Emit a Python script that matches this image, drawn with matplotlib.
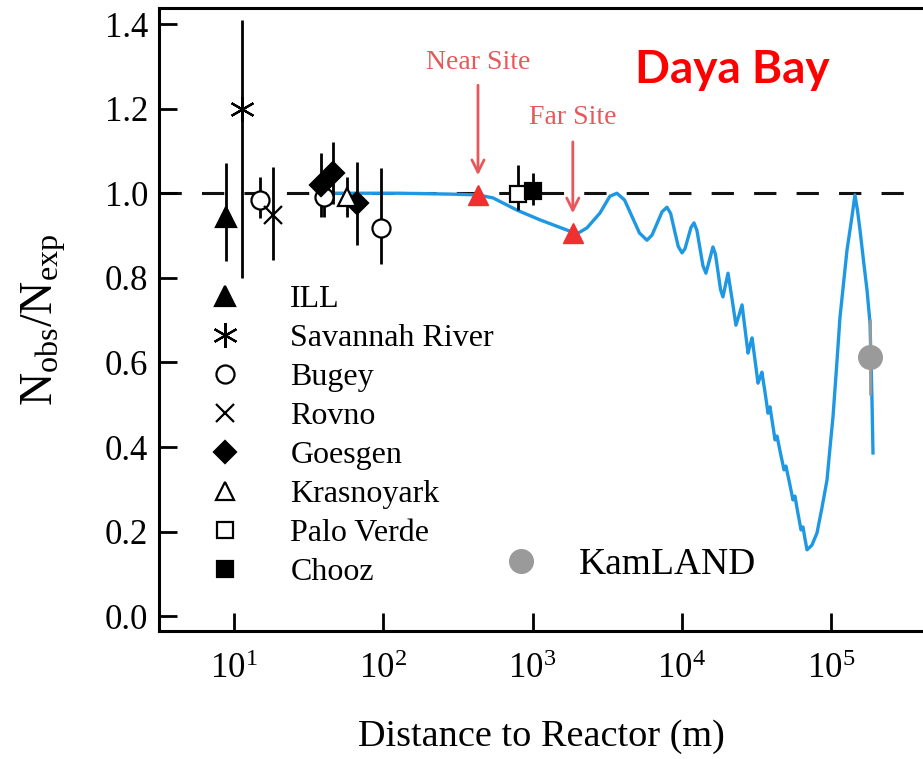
import matplotlib

matplotlib.use("Agg")
import matplotlib.pyplot as plt
import numpy as np
from matplotlib.lines import Line2D

# experiments: distance (m), ratio, lower / upper error
ill_x = [8.8]
ill_y = [0.944]
ill_lo = [0.104]
ill_hi = [0.127]

savannah_x = [11.3]
savannah_y = [1.20]
savannah_lo = [0.40]
savannah_hi = [0.21]

bugey_x = [14.9, 40.0, 96.6]
bugey_y = [0.985, 0.990, 0.918]
bugey_lo = [0.044, 0.046, 0.085]
bugey_hi = [0.053, 0.048, 0.142]

rovno_x = [18.2]
rovno_y = [0.948]
rovno_lo = [0.106]
rovno_hi = [0.114]

goesgen_x = [38.3, 46.0, 66.7]
goesgen_y = [1.019, 1.048, 0.977]
goesgen_lo = [0.075, 0.073, 0.099]
goesgen_hi = [0.076, 0.073, 0.097]

krasno_x = [57.0]
krasno_y = [0.990]
krasno_lo = [0.046]
krasno_hi = [0.048]

palo_x = [800.0]
palo_y = [0.998]
palo_lo = [0.038]
palo_hi = [0.069]

chooz_x = [1000.0]
chooz_y = [1.005]
chooz_lo = [0.033]
chooz_hi = [0.043]

kamland_x = [182000.0]
kamland_y = [0.613]
kamland_err = [0.09]

near_x, near_y = 431.0, 0.995
far_x, far_y = 1860.0, 0.905

# oscillation curve (log10 of distance in m, ratio)
curve_log10_m = [
    1.643, 2.112, 2.447, 2.634, 2.735, 2.896, 3.050, 3.230, 3.297, 3.364, 3.451,
    3.518, 3.565, 3.616, 3.666, 3.716, 3.766, 3.800, 3.833, 3.867, 3.900, 3.925,
    3.950, 3.976, 4.001, 4.021, 4.041, 4.061, 4.081, 4.101, 4.121, 4.141, 4.161,
    4.185, 4.208, 4.225, 4.242, 4.259, 4.275, 4.292, 4.309, 4.336, 4.362, 4.383,
    4.403, 4.423, 4.443, 4.456, 4.470, 4.490, 4.510, 4.523, 4.536, 4.557, 4.577,
    4.584, 4.590, 4.607, 4.624, 4.630, 4.637, 4.660, 4.684, 4.690, 4.697, 4.721,
    4.744, 4.751, 4.757, 4.777, 4.798, 4.804, 4.811, 4.824, 4.838, 4.871, 4.905,
    4.938, 4.972, 4.992, 5.012, 5.036, 5.059, 5.083, 5.106, 5.139, 5.159, 5.176,
    5.193, 5.216, 5.240, 5.260, 5.273, 5.280,
]
curve_ratio = [
    1.000, 1.000, 0.998, 0.996, 0.989, 0.960, 0.937, 0.913, 0.904, 0.918, 0.953,
    0.993, 1.000, 0.984, 0.945, 0.906, 0.889, 0.901, 0.928, 0.956, 0.967, 0.952,
    0.913, 0.874, 0.859, 0.869, 0.894, 0.919, 0.930, 0.912, 0.870, 0.829, 0.811,
    0.842, 0.873, 0.856, 0.814, 0.772, 0.755, 0.783, 0.811, 0.750, 0.688, 0.712,
    0.736, 0.679, 0.622, 0.640, 0.658, 0.605, 0.551, 0.564, 0.577, 0.529, 0.480,
    0.487, 0.495, 0.456, 0.417, 0.421, 0.426, 0.386, 0.346, 0.350, 0.355, 0.315,
    0.275, 0.280, 0.284, 0.244, 0.204, 0.207, 0.211, 0.184, 0.157, 0.168, 0.197,
    0.256, 0.322, 0.398, 0.471, 0.589, 0.707, 0.788, 0.866, 0.944, 0.996, 0.960,
    0.913, 0.842, 0.771, 0.693, 0.516, 0.386,
]

y_ticks = [0.0, 0.2, 0.4, 0.6, 0.8, 1.0, 1.2, 1.4]
x_ticks = [10, 100, 1000, 10000, 100000]

RED_TEXT = "#e8585a"
BLUE = "#1f98e4"


def main() -> None:
    plt.rcParams["font.family"] = "serif"
    plt.rcParams["font.serif"] = ["Liberation Serif", "DejaVu Serif"]
    plt.rcParams["mathtext.fontset"] = "custom"
    plt.rcParams["mathtext.rm"] = "Liberation Serif"
    plt.rcParams["mathtext.it"] = "Liberation Serif:italic"

    fig = plt.figure(figsize=(9.23, 7.59), dpi=100)
    ax = fig.add_axes([0.1723, 0.1686, 0.8277, 0.8209])

    ax.axhline(1.0, color="#111111", lw=2.2, dashes=(7.3, 6.6), zorder=1)
    ax.plot(10 ** np.array(curve_log10_m), curve_ratio, color=BLUE, lw=2.4, zorder=2,
            solid_joinstyle="round")

    ebar = dict(fmt="none", ecolor="black", elinewidth=2.0, capsize=0, zorder=3)
    sets = [
        (ill_x, ill_y, ill_lo, ill_hi, "^", "black", "black", 14, "ILL"),
        (savannah_x, savannah_y, savannah_lo, savannah_hi, (6, 2, 0), "black", "black", 18, "Savannah River"),
        (bugey_x, bugey_y, bugey_lo, bugey_hi, "o", "white", "black", 13, "Bugey"),
        (rovno_x, rovno_y, rovno_lo, rovno_hi, "x", "black", "black", 13, "Rovno"),
        (goesgen_x, goesgen_y, goesgen_lo, goesgen_hi, "D", "black", "black", 11.5, "Goesgen"),
        (krasno_x, krasno_y, krasno_lo, krasno_hi, "^", "white", "black", 13, "Krasnoyark"),
        (palo_x, palo_y, palo_lo, palo_hi, "s", "white", "black", 12, "Palo Verde"),
        (chooz_x, chooz_y, chooz_lo, chooz_hi, "s", "black", "black", 12, "Chooz"),
    ]
    handles = []
    for xs, ys, lo, hi, mk, fc, ec, ms, name in sets:
        ax.errorbar(xs, ys, yerr=[lo, hi], **ebar)
        ax.plot(xs, ys, ls="none", marker=mk, mfc=fc, mec=ec, mew=1.6, ms=ms, zorder=4)
        handles.append(Line2D([], [], ls="none", marker=mk, mfc=fc, mec=ec, mew=1.6, ms=ms, label=name))

    ax.errorbar(kamland_x, kamland_y, yerr=kamland_err, fmt="none", ecolor="#9a9a9a",
                elinewidth=2.0, capsize=0, zorder=3)
    ax.plot(kamland_x, kamland_y, ls="none", marker="o", color="#9a9a9a", ms=17, zorder=4)

    # Daya Bay sites
    ax.plot([near_x, far_x], [near_y, far_y], ls="none", marker="^", color="#f03030", ms=14, zorder=5)
    ax.text(near_x, 1.31, "Near Site", color=RED_TEXT, fontsize=20, ha="center", va="center")
    ax.text(far_x, 1.18, "Far Site", color=RED_TEXT, fontsize=20, ha="center", va="center")
    arrow = dict(arrowstyle="->", color=RED_TEXT, lw=2.0, mutation_scale=22)
    ax.annotate("", xy=(near_x, 1.036), xytext=(near_x, 1.262), arrowprops=arrow)
    ax.annotate("", xy=(far_x, 0.946), xytext=(far_x, 1.128), arrowprops=arrow)

    ax.text(0.751, 0.900, "Daya Bay", transform=ax.transAxes, color="#ff0000",
            fontsize=33, fontweight="bold", family="Lato", ha="center", va="center")

    leg = ax.legend(handles=handles, loc="upper left", bbox_to_anchor=(0.0448, 0.576),
                    frameon=False, fontsize=23, labelspacing=0.30, handletextpad=1.44,
                    handlelength=1.2, borderaxespad=0)
    ax.add_artist(leg)
    kam = Line2D([], [], ls="none", marker="o", color="#9a9a9a", ms=17, label="KamLAND")
    ax.legend(handles=[kam], loc="center left", bbox_to_anchor=(0.4295, 0.106), frameon=False,
              fontsize=27, handletextpad=1.05, handlelength=1.0, borderaxespad=0)

    ax.set_xscale("log")
    ax.set_xlim(3.15, 412000)
    ax.set_ylim(-0.035, 1.438)
    ax.set_xticks(x_ticks)
    ax.minorticks_off()
    ax.set_yticks(y_ticks)
    ax.set_yticklabels([f"{v:.1f}" for v in y_ticks])
    ax.tick_params(direction="in", length=13, width=2.0, labelsize=25, color="black")
    ax.tick_params(axis="x", pad=16)
    ax.tick_params(axis="y", pad=8)
    for side in ["left", "bottom", "top"]:
        ax.spines[side].set_linewidth(2.2)
    ax.spines["right"].set_visible(False)

    ax.set_xlabel("Distance to Reactor (m)", fontsize=27.5, labelpad=24)
    ax.set_ylabel(r"$\mathregular{N_{obs}/N_{exp}}$", fontsize=33, labelpad=26)

    fig.savefig("out.png", dpi=100)


if __name__ == "__main__":
    main()
